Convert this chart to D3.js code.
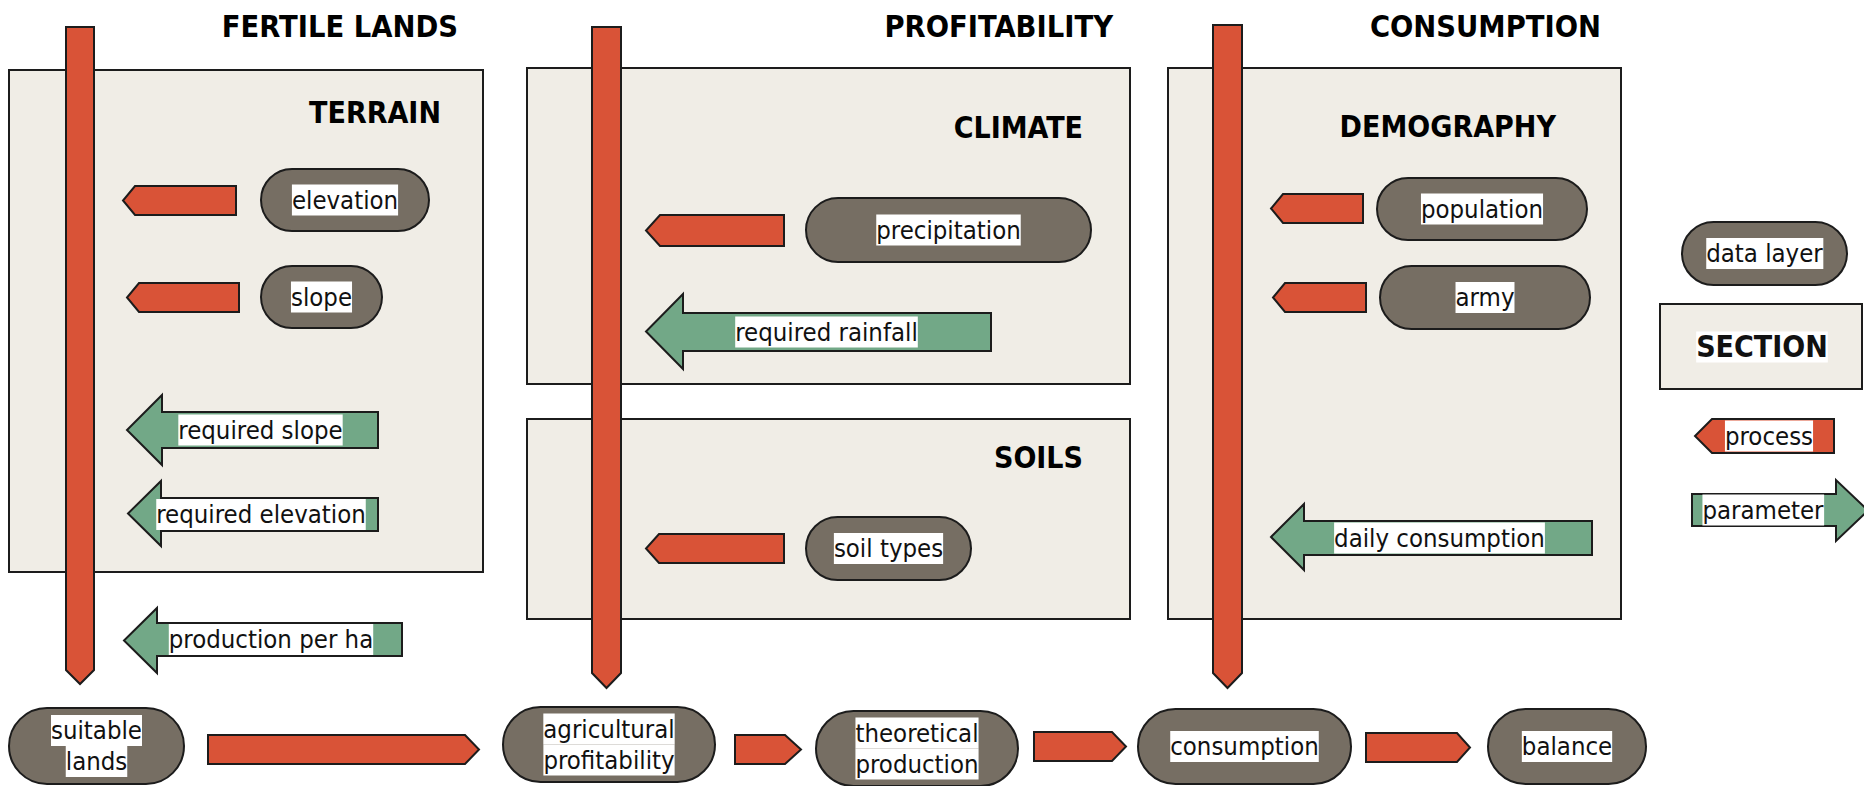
<html>
<head>
    <script src="https://d3js.org/d3.v7.min.js"></script>
    <style>
        body { margin: 0; background: #fff; }
        text { font-family: "DejaVu Sans Condensed", "DejaVu Sans", sans-serif; font-stretch: condensed; }
    </style>
</head>

<body>
    <svg id="flow"></svg>

    <script>
        // diagram content
        var columnTitles = ["FERTILE LANDS", "PROFITABILITY", "CONSUMPTION"];
        var sectionNames = ["TERRAIN", "CLIMATE", "SOILS", "DEMOGRAPHY"];
        var dataLayers   = ["elevation", "slope", "precipitation", "soil types", "population", "army"];
        var parameters   = ["required slope", "required elevation", "production per ha", "required rainfall", "daily consumption"];
        var outputs      = [["suitable", "lands"], ["agricultural", "profitability"], ["theoretical", "production"], ["consumption"], ["balance"]];
        var legendItems  = ["data layer", "SECTION", "process", "parameter"];

        // geometry
        var Width = 1864, Height = 786;
        var RED = "#D95337", GREEN = "#72A887", PILL = "#766E63", BOX = "#F0EDE6", INK = "#1c1c1c";
        var FS = 25.5, HFS = 30.5, SFS = 30;

        var columnLayout = [
            { right: 458,  x0: 66,   x1: 94,   top: 27, shaftEnd: 670, tip: 684 },
            { right: 1113, x0: 592,  x1: 621,  top: 27, shaftEnd: 673, tip: 688 },
            { right: 1601, x0: 1213, x1: 1242, top: 25, shaftEnd: 673, tip: 688 }
        ];
        var sectionLayout = {
            "TERRAIN":    { x0: 9,    y0: 70,  x1: 483,  y1: 572, tx: 441,  ty: 123 },
            "CLIMATE":    { x0: 527,  y0: 68,  x1: 1130, y1: 384, tx: 1083, ty: 138 },
            "SOILS":      { x0: 527,  y0: 419, x1: 1130, y1: 619, tx: 1083, ty: 468 },
            "DEMOGRAPHY": { x0: 1168, y0: 68,  x1: 1621, y1: 619, tx: 1556, ty: 137 }
        };
        var layerLayout = {
            "elevation":     { pill: [261, 169, 429, 231],  arrow: [123, 135, 236, 186, 215] },
            "slope":         { pill: [261, 266, 382, 328],  arrow: [127, 139, 239, 283, 312] },
            "precipitation": { pill: [806, 198, 1091, 262], arrow: [646, 660, 784, 215, 246] },
            "soil types":    { pill: [806, 517, 971, 580],  arrow: [646, 659, 784, 534, 563] },
            "population":    { pill: [1377, 178, 1587, 240], arrow: [1271, 1283, 1363, 194, 223] },
            "army":          { pill: [1380, 266, 1590, 329], arrow: [1273, 1285, 1366, 283, 312] }
        };
        // tip, headBack, right, headTop, headBottom, shaftTop, shaftBottom
        var paramLayout = {
            "required slope":     [127, 162, 378, 395, 465, 412, 448],
            "required elevation": [128, 161, 378, 481, 546, 498, 531],
            "production per ha":  [124, 157, 402, 608, 673, 623, 656],
            "required rainfall":  [646, 683, 991, 294, 369, 313, 351],
            "daily consumption":  [1271, 1304, 1592, 504, 570, 521, 555]
        };
        var outputLayout = [
            [9, 708, 184, 784], [503, 707, 715, 782], [816, 711, 1018, 786],
            [1138, 709, 1351, 784], [1488, 709, 1646, 784]
        ];
        // x0, shaftEnd, tip, y0, y1
        var flowLayout = [
            [208, 465, 479, 735, 764], [735, 785, 801, 735, 764],
            [1034, 1112, 1126, 732, 761], [1366, 1457, 1470, 733, 762]
        ];

        var svg = d3.select("#flow")
            .attr("width", Width)
            .attr("height", Height);

        var line = d3.line();

        function labelled(g, lines, cx, cy, size, weight)
        {
            var lh = 31;
            lines.forEach(function(s, i) {
                var y = cy + (i - (lines.length - 1) / 2) * lh;
                var bg = g.append("rect").attr("fill", "#fff");
                var t = g.append("text")
                    .attr("x", cx).attr("y", y + 0.346 * size)
                    .attr("text-anchor", "middle")
                    .attr("font-size", size)
                    .attr("font-weight", weight || "normal")
                    .attr("fill", "#111")
                    .text(s);
                var b = t.node().getBBox();
                bg.attr("x", b.x).attr("y", y - 15.5).attr("width", b.width).attr("height", 31);
            });
        }

        function pill(g, p, lines)
        {
            var h = p[3] - p[1];
            g.append("rect")
                .attr("x", p[0]).attr("y", p[1])
                .attr("width", p[2] - p[0]).attr("height", h)
                .attr("rx", h / 2).attr("ry", h / 2)
                .attr("fill", PILL).attr("stroke", INK).attr("stroke-width", 2);
            labelled(g, lines, (p[0] + p[2]) / 2, (p[1] + p[3]) / 2, FS);
        }

        function processLeft(g, a)
        {
            var mid = (a[3] + a[4]) / 2;
            g.append("path")
                .attr("d", line([[a[2], a[3]], [a[1], a[3]], [a[0], mid], [a[1], a[4]], [a[2], a[4]]]) + "Z")
                .attr("fill", RED).attr("stroke", INK).attr("stroke-width", 2);
        }

        function paramLeft(g, a, name)
        {
            var mid = (a[3] + a[4]) / 2;
            g.append("path")
                .attr("d", line([[a[2], a[5]], [a[1], a[5]], [a[1], a[3]], [a[0], mid],
                                 [a[1], a[4]], [a[1], a[6]], [a[2], a[6]]]) + "Z")
                .attr("fill", GREEN).attr("stroke", INK).attr("stroke-width", 2);
            labelled(g, [name], (a[0] + a[2]) / 2 + 8, (a[5] + a[6]) / 2, FS);
        }

        // section boxes
        var boxes = svg.append("g");
        sectionNames.forEach(function(name) {
            var s = sectionLayout[name];
            boxes.append("rect")
                .attr("x", s.x0).attr("y", s.y0)
                .attr("width", s.x1 - s.x0).attr("height", s.y1 - s.y0)
                .attr("fill", BOX).attr("stroke", INK).attr("stroke-width", 2);
            boxes.append("text")
                .attr("x", s.tx).attr("y", s.ty)
                .attr("text-anchor", "end")
                .attr("font-size", SFS).attr("font-weight", "bold")
                .text(name);
        });

        // column titles and vertical process bars
        var cols = svg.append("g");
        columnTitles.forEach(function(title, i) {
            var c = columnLayout[i];
            cols.append("text")
                .attr("x", c.right).attr("y", 37)
                .attr("text-anchor", "end")
                .attr("font-size", HFS).attr("font-weight", "bold")
                .text(title);
            var cx = (c.x0 + c.x1) / 2;
            cols.append("path")
                .attr("d", line([[c.x0, c.top], [c.x1, c.top], [c.x1, c.shaftEnd], [cx, c.tip], [c.x0, c.shaftEnd]]) + "Z")
                .attr("fill", RED).attr("stroke", INK).attr("stroke-width", 2);
        });

        // data layers feeding processes
        var layers = svg.append("g");
        dataLayers.forEach(function(name) {
            var l = layerLayout[name];
            processLeft(layers, l.arrow);
            pill(layers, l.pill, [name]);
        });

        // parameters
        var params = svg.append("g");
        parameters.forEach(function(name) {
            paramLeft(params, paramLayout[name], name);
        });

        // bottom chain of outputs
        var chain = svg.append("g");
        flowLayout.forEach(function(f) {
            var mid = (f[3] + f[4]) / 2;
            chain.append("path")
                .attr("d", line([[f[0], f[3]], [f[1], f[3]], [f[2], mid], [f[1], f[4]], [f[0], f[4]]]) + "Z")
                .attr("fill", RED).attr("stroke", INK).attr("stroke-width", 2);
        });
        outputs.forEach(function(lines, i) {
            pill(chain, outputLayout[i], lines);
        });

        // legend
        var legend = svg.append("g");
        pill(legend, [1682, 222, 1847, 285], [legendItems[0]]);

        legend.append("rect")
            .attr("x", 1660).attr("y", 304).attr("width", 202).attr("height", 85)
            .attr("fill", BOX).attr("stroke", INK).attr("stroke-width", 2);
        labelled(legend, [legendItems[1]], 1762, 347, SFS, "bold");

        processLeft(legend, [1695, 1712, 1834, 419, 453]);
        labelled(legend, [legendItems[2]], 1769, 436, FS);

        var pm = (480 + 541) / 2;
        legend.append("path")
            .attr("d", line([[1692, 494], [1836, 494], [1836, 480], [1868, pm],
                             [1836, 541], [1836, 526], [1692, 526]]) + "Z")
            .attr("fill", GREEN).attr("stroke", INK).attr("stroke-width", 2);
        labelled(legend, [legendItems[3]], 1763, 510, FS);
    </script>
</body>
</html>
